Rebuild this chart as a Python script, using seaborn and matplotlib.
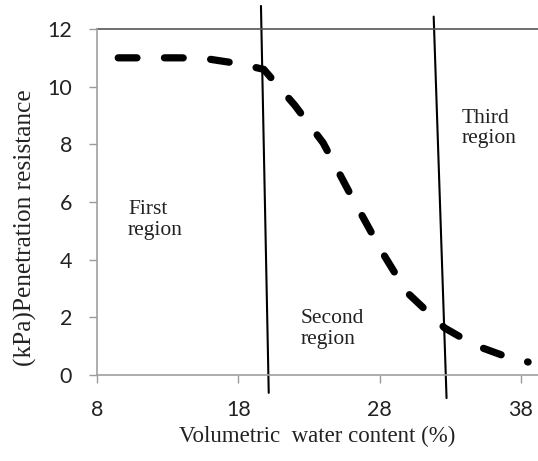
import matplotlib
matplotlib.use("Agg")
import matplotlib.pyplot as plt
import seaborn as sns
import pandas as pd

# Data
water_content = [9.5, 12, 14, 16, 18, 19.8, 22, 24, 26, 28.2, 29.9, 32.6, 34.7, 37.6, 38.5]
resistance = [11.0, 11.0, 11.0, 10.95, 10.8, 10.6, 9.35, 8.05, 6.2, 4.24, 2.88, 1.63, 1.04, 0.52, 0.45]

boundary1_x = [19.6, 20.15]
boundary1_y = [12.8, -0.62]
boundary2_x = [31.82, 32.73]
boundary2_y = [12.43, -0.80]

x_ticks = [8, 18, 28, 38]
y_ticks = [0, 2, 4, 6, 8, 10, 12]

region_labels = ["First\nregion", "Second\nregion", "Third\nregion"]
region_x = [10.2, 22.4, 33.8]
region_y = [5.38, 1.6, 8.54]

sns.set_theme(style="white")
plt.rcParams['font.family'] = ['Liberation Serif', 'DejaVu Sans']

fig = plt.figure(figsize=(5.38, 4.61), dpi=100)
ax = fig.add_axes([97/538, 86/461, 1 - 97/538, (375-29)/461])

df = pd.DataFrame({"x": water_content, "y": resistance})
sns.lineplot(data=df, x="x", y="y", ax=ax, sort=False, color="black",
             linewidth=5.2, linestyle=(0, (2.6, 3.8)), dash_capstyle="round",
             solid_joinstyle="round")

for bx, by in [(boundary1_x, boundary1_y), (boundary2_x, boundary2_y)]:
    ax.plot(bx, by, color="black", linewidth=1.5, clip_on=False)

ax.axhline(12, color="#555555", linewidth=1.2, clip_on=False)

ax.set_xlim(8, 39.2)
ax.set_ylim(0, 12)
ax.set_xticks(x_ticks)
ax.set_yticks(y_ticks)
ax.set_xticklabels([str(v) for v in x_ticks], family="Lato", fontsize=15.5)
ax.set_yticklabels([str(v) for v in y_ticks], family="Lato", fontsize=15.5)
ax.tick_params(axis="both", which="major", length=6, width=1, color="#9a9a9a",
               direction="out", bottom=True, left=True, labelcolor="#222222")
ax.tick_params(axis="x", pad=12)
ax.tick_params(axis="y", pad=12)

for side in ["top", "right"]:
    ax.spines[side].set_visible(False)
for side in ["left", "bottom"]:
    ax.spines[side].set_color("#a0a0a0")
    ax.spines[side].set_linewidth(1.2)

for lab, lx, ly in zip(region_labels, region_x, region_y):
    ax.text(lx, ly, lab, fontsize=15.5, color="#222222", ha="left", va="center",
            linespacing=1.1)

ax.set_xlabel("Volumetric  water content (%)", fontsize=16.5, color="#222222", labelpad=4)
ax.set_ylabel("(kPa)Penetration resistance", fontsize=18.3, color="#222222")
ax.yaxis.set_label_coords(-60/441, 0.425)

fig.savefig("out.png", dpi=100)
